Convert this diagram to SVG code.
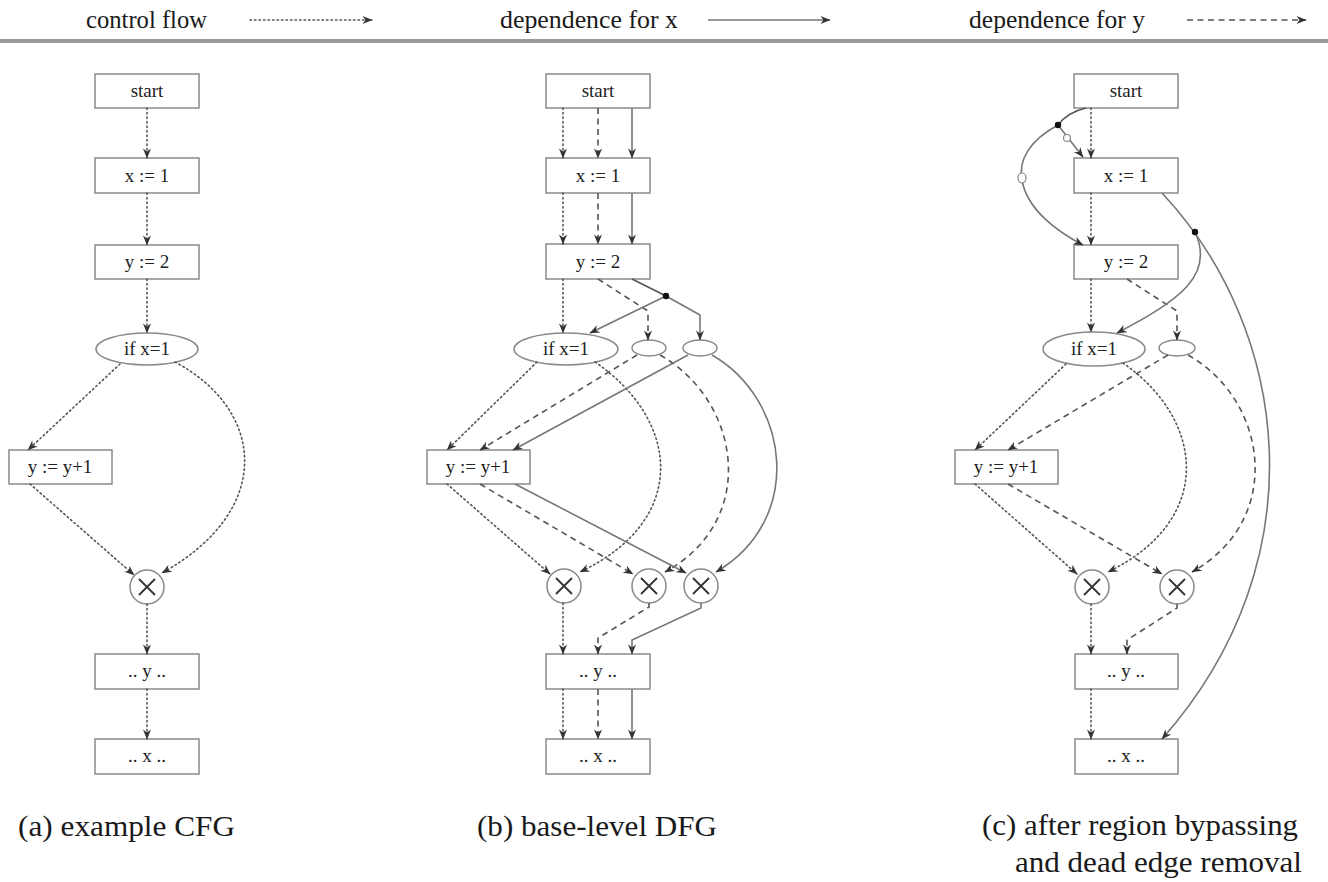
<svg xmlns="http://www.w3.org/2000/svg" width="1328" height="882" viewBox="0 0 1328 882">
  <style>
    .box { fill: #fff; stroke: #8a8a8a; stroke-width: 1.5; }
    .lbl { font-family: "Liberation Serif", "Times New Roman", serif; font-size: 19px; fill: #222; text-anchor: middle; }
    .cap { font-family: "Liberation Serif", "Times New Roman", serif; font-size: 30px; fill: #1a1a1a; }
    .leg { font-family: "Liberation Serif", "Times New Roman", serif; font-size: 25px; fill: #1a1a1a; }
    .e { fill: none; stroke: #555; stroke-width: 1.6; marker-end: url(#ah); }
    .cf { stroke-dasharray: 1.5 3; stroke-linecap: round; }
    .dx { stroke: #777; }
    .dy { stroke-dasharray: 6 4.5; }
    .nm { fill: none; stroke: #555; stroke-width: 1.6; }
    .dot { fill: #111; }
    .ring { fill: #fff; stroke: #888; stroke-width: 1.2; }
    .mrg { fill: #fff; stroke: #8a8a8a; stroke-width: 1.5; }
    .mx { stroke: #333; stroke-width: 1.8; }
  </style>
  <defs>
    <marker id="ah" viewBox="0 0 10 8" refX="9.5" refY="4" markerWidth="11" markerHeight="8" markerUnits="userSpaceOnUse" orient="auto">
      <path d="M0,0 L10,4 L0,8 L3,4 z" fill="#333"/>
    </marker>
    <g id="merge">
      <circle class="mrg" r="17"/>
      <path class="mx" d="M-8,-8 L8,8 M-8,8 L8,-8"/>
    </g>
  </defs>

  <!-- legend -->
  <g id="legend">
    <text class="leg" x="86" y="28" textLength="121" lengthAdjust="spacingAndGlyphs">control flow</text>
    <path class="e cf" d="M250,20 L372,20"/>
    <text class="leg" x="500" y="28" textLength="178" lengthAdjust="spacingAndGlyphs">dependence for x</text>
    <path class="e dx" d="M708,20 L830,20"/>
    <text class="leg" x="969" y="28" textLength="176" lengthAdjust="spacingAndGlyphs">dependence for y</text>
    <path class="e dy" d="M1187,20 L1306,20"/>
    <rect x="0" y="39" width="1328" height="4" fill="#9a9a9a"/>
  </g>

  <!-- (a) example CFG -->
  <g id="a-start"><rect class="box" x="95" y="74" width="104" height="34"/><text class="lbl" x="147" y="97" font-size="16">start</text></g>
  <g id="a-x1"><rect class="box" x="95" y="158" width="104" height="35"/><text class="lbl" x="147" y="182">x := 1</text></g>
  <g id="a-y2"><rect class="box" x="95" y="245" width="104" height="34"/><text class="lbl" x="147" y="268">y := 2</text></g>
  <g id="a-if"><ellipse class="box" cx="147" cy="349" rx="51" ry="16"/><text class="lbl" x="147" y="355">if x=1</text></g>
  <g id="a-inc"><rect class="box" x="9" y="450" width="103" height="34"/><text class="lbl" x="60" y="473">y := y+1</text></g>
  <g id="a-merge"><use href="#merge" x="147" y="587"/></g>
  <g id="a-usey"><rect class="box" x="95" y="654" width="104" height="35"/><text class="lbl" x="147" y="677">.. y ..</text></g>
  <g id="a-usex"><rect class="box" x="95" y="739" width="104" height="35"/><text class="lbl" x="147" y="762">.. x ..</text></g>
  <text id="cap-a" class="cap" x="18" y="836" textLength="217" lengthAdjust="spacingAndGlyphs">(a) example CFG</text>

  <!-- (b) base-level DFG -->
  <g id="b-start"><rect class="box" x="546" y="74" width="104" height="34"/><text class="lbl" x="598" y="97" font-size="16">start</text></g>
  <g id="b-x1"><rect class="box" x="546" y="158" width="104" height="35"/><text class="lbl" x="598" y="182">x := 1</text></g>
  <g id="b-y2"><rect class="box" x="546" y="244" width="104" height="35"/><text class="lbl" x="598" y="268">y := 2</text></g>
  <g id="b-if"><ellipse class="box" cx="566" cy="349" rx="52" ry="16"/><text class="lbl" x="566" y="355">if x=1</text></g>
  <g id="b-sel1"><ellipse class="box" cx="649" cy="348" rx="17" ry="8"/></g>
  <g id="b-sel2"><ellipse class="box" cx="700" cy="348" rx="17" ry="8"/></g>
  <g id="b-inc"><rect class="box" x="427" y="450" width="103" height="34"/><text class="lbl" x="478" y="473">y := y+1</text></g>
  <g id="b-merge1"><use href="#merge" x="564" y="586"/></g>
  <g id="b-merge2"><use href="#merge" x="649" y="586"/></g>
  <g id="b-merge3"><use href="#merge" x="701" y="586"/></g>
  <g id="b-usey"><rect class="box" x="546" y="654" width="104" height="35"/><text class="lbl" x="598" y="677">.. y ..</text></g>
  <g id="b-usex"><rect class="box" x="546" y="739" width="104" height="35"/><text class="lbl" x="598" y="762">.. x ..</text></g>
  <text id="cap-b" class="cap" x="477" y="836" textLength="240" lengthAdjust="spacingAndGlyphs">(b) base-level DFG</text>

  <!-- (c) after region bypassing and dead edge removal -->
  <g id="c-start"><rect class="box" x="1074" y="74" width="104" height="34"/><text class="lbl" x="1126" y="97" font-size="16">start</text></g>
  <g id="c-x1"><rect class="box" x="1074" y="158" width="104" height="35"/><text class="lbl" x="1126" y="182">x := 1</text></g>
  <g id="c-y2"><rect class="box" x="1074" y="245" width="104" height="34"/><text class="lbl" x="1126" y="268">y := 2</text></g>
  <g id="c-if"><ellipse class="box" cx="1094" cy="349" rx="51" ry="17"/><text class="lbl" x="1094" y="355">if x=1</text></g>
  <g id="c-sel1"><ellipse class="box" cx="1177" cy="348" rx="18" ry="8"/></g>
  <g id="c-inc"><rect class="box" x="955" y="450" width="103" height="34"/><text class="lbl" x="1006" y="473">y := y+1</text></g>
  <g id="c-merge1"><use href="#merge" x="1092" y="587"/></g>
  <g id="c-merge2"><use href="#merge" x="1177" y="587"/></g>
  <g id="c-usey"><rect class="box" x="1075" y="654" width="103" height="35"/><text class="lbl" x="1126" y="677">.. y ..</text></g>
  <g id="c-usex"><rect class="box" x="1075" y="739" width="103" height="35"/><text class="lbl" x="1126" y="762">.. x ..</text></g>
  <text id="cap-c1" class="cap" x="982" y="835" textLength="316" lengthAdjust="spacingAndGlyphs">(c) after region bypassing</text>
  <text id="cap-c2" class="cap" x="1015" y="872" textLength="287" lengthAdjust="spacingAndGlyphs">and dead edge removal</text>

  <g id="connectors">
    <!-- (a) control flow -->
    <path class="e cf" d="M147,108 L147,158"/>
    <path class="e cf" d="M147,193 L147,245"/>
    <path class="e cf" d="M147,279 L147,333"/>
    <path class="e cf" d="M120,364 L28,450"/>
    <path class="e cf" d="M175,362 C265,410 275,510 162,573"/>
    <path class="e cf" d="M30,484 L134,575"/>
    <path class="e cf" d="M147,604 L147,654"/>
    <path class="e cf" d="M147,689 L147,739"/>

    <!-- (b) control flow -->
    <path class="e cf" d="M563,108 L563,158"/>
    <path class="e cf" d="M563,193 L563,244"/>
    <path class="e cf" d="M563,279 L563,333"/>
    <path class="e cf" d="M537,362 L447,450"/>
    <path class="e cf" d="M595,362 C680,420 690,520 580,572"/>
    <path class="e cf" d="M447,484 L550,574"/>
    <path class="e cf" d="M563,603 L563,654"/>
    <path class="e cf" d="M563,689 L563,739"/>
    <!-- (b) dependence for y -->
    <path class="e dy" d="M598,108 L598,158"/>
    <path class="e dy" d="M598,193 L598,244"/>
    <path class="e dy" d="M598,279 L648,311 L648,340"/>
    <path class="e dy" d="M637,355 L480,450"/>
    <path class="e dy" d="M660,355 C740,400 760,520 665,572"/>
    <path class="e dy" d="M480,484 L633,574"/>
    <path class="e dy" d="M649,603 L649,607 L598,638 L598,654"/>
    <path class="e dy" d="M598,689 L598,739"/>
    <!-- (b) dependence for x -->
    <path class="e dx" d="M632,108 L632,158"/>
    <path class="e dx" d="M632,193 L632,244"/>
    <path class="nm dx" d="M632,279 L666,296"/>
    <path class="e dx" d="M666,296 L590,333"/>
    <path class="e dx" d="M666,296 L700,315 L700,340"/>
    <path class="e dx" d="M688,355 L513,450"/>
    <path class="e dx" d="M712,355 C790,400 805,520 716,572"/>
    <path class="e dx" d="M515,484 L686,573"/>
    <path class="e dx" d="M701,603 L701,608 L632,640 L632,654"/>
    <path class="e dx" d="M632,689 L632,739"/>
    <circle class="dot" cx="666" cy="296" r="3.2"/>

    <!-- (c) control flow -->
    <path class="e cf" d="M1091,108 L1091,158"/>
    <path class="e cf" d="M1091,193 L1091,245"/>
    <path class="e cf" d="M1091,279 L1091,332"/>
    <path class="e cf" d="M1066,364 L975,450"/>
    <path class="e cf" d="M1123,363 C1205,420 1215,520 1108,572"/>
    <path class="e cf" d="M975,484 L1077,574"/>
    <path class="e cf" d="M1091,604 L1091,654"/>
    <path class="e cf" d="M1091,689 L1091,739"/>
    <!-- (c) dependence for y -->
    <path class="e dy" d="M1127,279 L1177,311 L1177,340"/>
    <path class="e dy" d="M1168,355 L1008,450"/>
    <path class="e dy" d="M1188,355 C1268,400 1285,520 1192,572"/>
    <path class="e dy" d="M1008,484 L1162,574"/>
    <path class="e dy" d="M1177,604 L1177,608 L1127,640 L1127,654"/>
    <!-- (c) dependence for x -->
    <path class="nm dx" d="M1086,108 Q1068,112 1058,125"/>
    <path class="e dx" d="M1058,125 L1083,157"/>
    <path class="e dx" d="M1058,125 C1030,140 1018,160 1022,180 C1027,210 1058,232 1083,245"/>
    <path class="e dx" d="M1162,193 C1290,330 1320,560 1162,739"/>
    <path class="e dx" d="M1195,232 C1215,275 1180,300 1117,333"/>
    <circle class="dot" cx="1058" cy="125" r="3.2"/>
    <circle class="dot" cx="1195" cy="232" r="3.2"/>
    <circle class="ring" cx="1067" cy="138" r="3.5"/>
    <ellipse class="ring" cx="1022" cy="178" rx="4" ry="5"/>
  </g>
</svg>
